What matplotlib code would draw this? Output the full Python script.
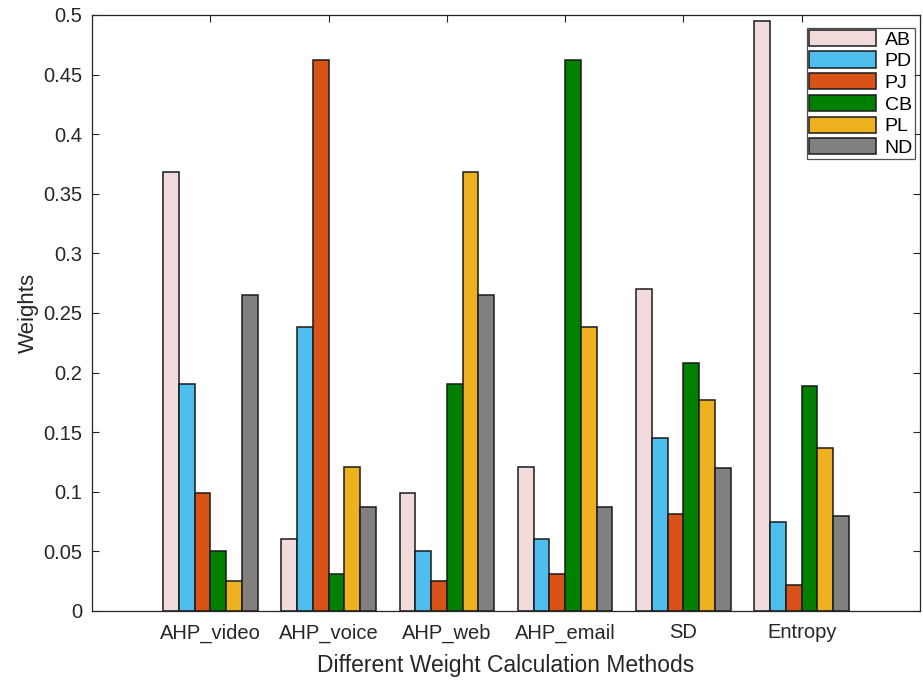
import matplotlib
matplotlib.use("Agg")
import matplotlib.pyplot as plt
import numpy as np

plt.rcParams['font.family'] = ['Liberation Sans', 'DejaVu Sans']

categories = ["AHP_video", "AHP_voice", "AHP_web", "AHP_email", "SD", "Entropy"]
series_names = ["AB", "PD", "PJ", "CB", "PL", "ND"]
AB = [0.368, 0.060, 0.099, 0.121, 0.270, 0.495]
PD = [0.190, 0.238, 0.050, 0.060, 0.145, 0.075]
PJ = [0.099, 0.462, 0.025, 0.031, 0.081, 0.022]
CB = [0.050, 0.031, 0.190, 0.462, 0.208, 0.189]
PL = [0.025, 0.121, 0.368, 0.238, 0.177, 0.137]
ND = [0.265, 0.087, 0.265, 0.087, 0.120, 0.080]
series = [AB, PD, PJ, CB, PL, ND]
colors = ["#F2DCDB", "#4DBEEE", "#D95319", "#008000", "#EDB120", "#808080"]

fig = plt.figure(figsize=(9.23, 6.8), dpi=100)
ax = fig.add_axes([0.0997, 0.1015, 0.8970, 0.8765])

x = np.arange(1, len(categories) + 1)
n = len(series)
w = 0.8 / n
for i, (vals, name, c) in enumerate(zip(series, series_names, colors)):
    ax.bar(x + (i - (n - 1) / 2) * w, vals, width=w, color=c, edgecolor="#1a1a1a",
           linewidth=1.1, label=name)

ax.set_xlim(0, 7)
ax.set_ylim(0, 0.5)
ax.set_xticks(x)
ax.set_xticklabels(categories)
yt = np.arange(0, 0.51, 0.05)
ax.set_yticks(yt)
ax.set_yticklabels(["0", "0.05", "0.1", "0.15", "0.2", "0.25", "0.3", "0.35", "0.4", "0.45", "0.5"])
ax.tick_params(direction="in", top=True, right=True, length=5, labelsize=14.5, colors="#262626")
ax.tick_params(axis="x", pad=9)
ax.tick_params(axis="y", pad=7)
for s in ax.spines.values():
    s.set_color("#262626")
    s.set_linewidth(0.9)

ax.set_xlabel("Different Weight Calculation Methods", fontsize=16.5, color="#262626", labelpad=8)
ax.set_ylabel("Weights", fontsize=16, color="#262626", labelpad=3)

leg = ax.legend(loc="upper right", bbox_to_anchor=(0.9985, 0.985), fontsize=14,
                frameon=True, fancybox=False, edgecolor="#262626",
                handlelength=3.45, handleheight=0.9, labelspacing=0.15,
                handletextpad=0.45, borderpad=0.1, borderaxespad=0.2)
leg.get_frame().set_linewidth(0.9)

fig.savefig("out.png", dpi=100)
